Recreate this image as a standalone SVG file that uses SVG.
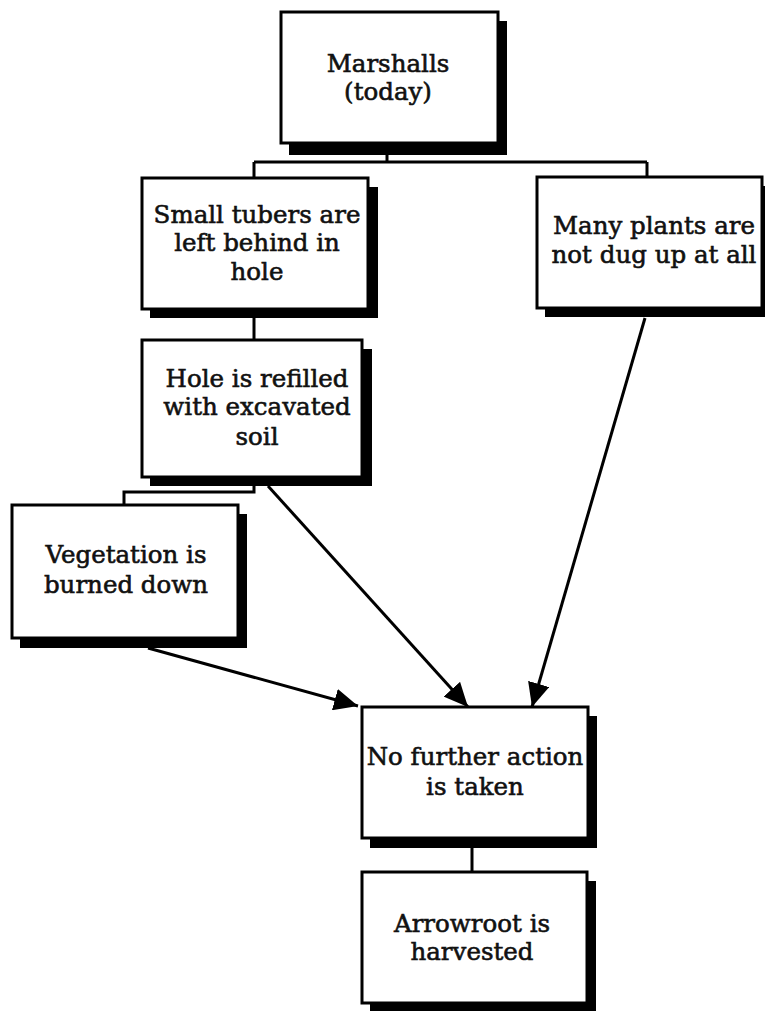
<svg xmlns="http://www.w3.org/2000/svg" width="765" height="1011" viewBox="0 0 765 1011">
<style>
.sh{fill:#000}
.bx{fill:#fff;stroke:#000;stroke-width:3}
.t{font-family:"DejaVu Serif","Liberation Serif",serif;font-size:24.5px;fill:#111;stroke:#111;stroke-width:0.6;text-anchor:middle}
.c{fill:none;stroke:#000;stroke-width:3}
</style>
<defs>
<marker id="ah" markerUnits="userSpaceOnUse" markerWidth="26" markerHeight="22" refX="24" refY="11" orient="auto">
<path d="M0,0 L24,11 L0,22 Z" fill="#000"/>
</marker>
</defs>
<rect width="765" height="1011" fill="#fff"/>
<g id="connectors">
<path class="c" d="M387,152 V162 M254,162 H647 M254,162 V178 M647,162 V177"/>
<path class="c" d="M254,318 V340"/>
<path class="c" d="M254,486 V492 H124 V505"/>
<path class="c" d="M472,847 V872"/>
<line class="c" x1="268" y1="486" x2="468" y2="707" marker-end="url(#ah)"/>
<line class="c" x1="645" y1="318" x2="532" y2="707" marker-end="url(#ah)"/>
<line class="c" x1="148" y1="648" x2="358" y2="706" marker-end="url(#ah)"/>
</g>
<g id="marshalls">
<rect class="sh" x="289" y="21" width="218" height="134"/>
<rect class="bx" x="281" y="12" width="217" height="131"/>
<text class="t" x="388" y="72">Marshalls</text>
<text class="t" x="388" y="100">(today)</text>
</g>
<g id="tubers">
<rect class="sh" x="150" y="187" width="228" height="131"/>
<rect class="bx" x="142" y="178" width="226" height="131"/>
<text class="t" x="257" y="223">Small tubers are</text>
<text class="t" x="257" y="251">left behind in</text>
<text class="t" x="257" y="280">hole</text>
</g>
<g id="plants">
<rect class="sh" x="545" y="186" width="225" height="131"/>
<rect class="bx" x="537" y="177" width="225" height="131"/>
<text class="t" x="654" y="234">Many plants are</text>
<text class="t" x="654" y="263">not dug up at all</text>
</g>
<g id="hole">
<rect class="sh" x="150" y="349" width="222" height="137"/>
<rect class="bx" x="142" y="340" width="220" height="137"/>
<text class="t" x="257" y="387">Hole is refilled</text>
<text class="t" x="257" y="415">with excavated</text>
<text class="t" x="257" y="445">soil</text>
</g>
<g id="vegetation">
<rect class="sh" x="20" y="514" width="227" height="134"/>
<rect class="bx" x="12" y="505" width="226" height="133"/>
<text class="t" x="126" y="563">Vegetation is</text>
<text class="t" x="126" y="593">burned down</text>
</g>
<g id="nofurther">
<rect class="sh" x="370" y="716" width="227" height="132"/>
<rect class="bx" x="362" y="707" width="226" height="131"/>
<text class="t" x="475" y="765">No further action</text>
<text class="t" x="475" y="795">is taken</text>
</g>
<g id="arrowroot">
<rect class="sh" x="370" y="881" width="226" height="131"/>
<rect class="bx" x="362" y="872" width="225" height="131"/>
<text class="t" x="472" y="932">Arrowroot is</text>
<text class="t" x="472" y="960">harvested</text>
</g>
</svg>
